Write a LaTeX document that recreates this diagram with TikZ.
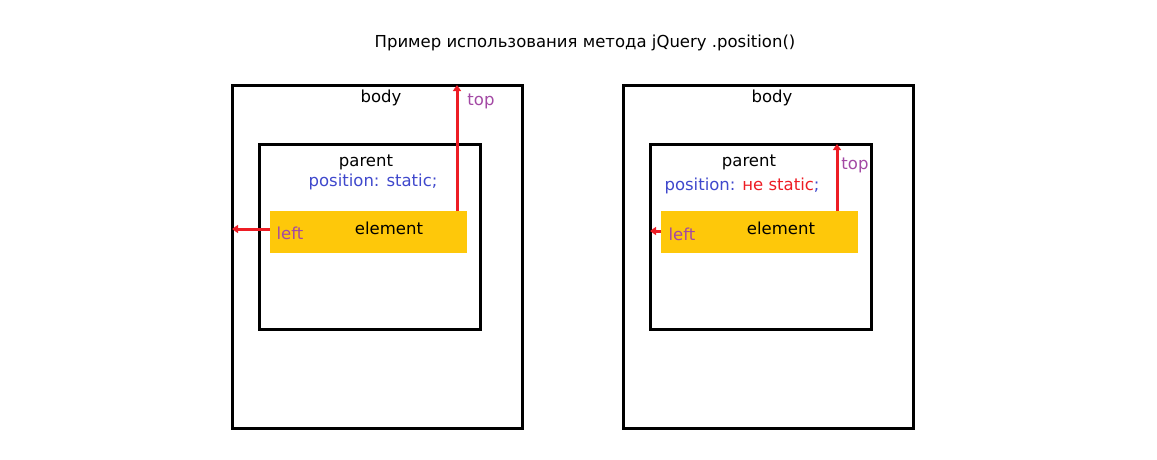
\documentclass[tikz,border=0pt]{standalone}
\usepackage{fontspec}
\setmainfont{DejaVu Sans}
\usetikzlibrary{arrows.meta}
\definecolor{elemc}{RGB}{254,200,10}
\definecolor{arrc}{RGB}{237,28,36}
\definecolor{lblc}{RGB}{163,73,164}
\definecolor{posc}{RGB}{63,72,204}
\tikzset{
  x=1pt,y=-1pt,
  box/.style={draw=black,line width=3pt},
  elem/.style={fill=elemc},
  redarrow/.style={draw=arrc,line width=3pt,-{Triangle[length=6pt,width=8pt]}},
  lbl/.style={inner sep=0pt,font=\fontsize{16.5}{18}\selectfont},
}
\begin{document}
\begin{tikzpicture}
\useasboundingbox (0,0) rectangle (1157,459);
\node[lbl] (title) at (585,43) {Пример использования метода jQuery .position()};
% left
\draw[box] (232,85) rectangle (522,428);
\coordinate (lbodytop) at (457,85);
\coordinate (lbodyleft) at (232,229);
\draw[box] (259,144) rectangle (480,329);
\fill[elem] (270,211) rectangle (467,253);
\coordinate (lelemtop) at (457,211);
\coordinate (lelemleft) at (270,229);
\node[lbl] (lbody) at (381,98) {body};
\node[lbl] (lparent) at (366,162) {parent};
\node[lbl,text=posc] (lpos) at (373,182) {position: static;};
\node[lbl] (lelem) at (389,228) {element};
\node[lbl,text=lblc] (ltop) at (481,101) {top};
\node[lbl,text=lblc] (lleft) at (290,233) {left};
\draw[redarrow] (lelemtop) -- (lbodytop);
\draw[redarrow] (lelemleft) -- (lbodyleft);
% right
\draw[box] (623,85) rectangle (913,428);
\draw[box] (650,144) rectangle (871,329);
\coordinate (rpartop) at (837,144);
\coordinate (rparleft) at (650,231);
\fill[elem] (661,211) rectangle (858,253);
\coordinate (relemtop) at (837,211);
\coordinate (relemleft) at (661,231);
\node[lbl] (rbody) at (772,98) {body};
\node[lbl] (rparent) at (749,162) {parent};
\node[lbl,text=posc] (rpos) at (742,186) {position: \textcolor{arrc}{не static};};
\node[lbl] (relem) at (781,228) {element};
\node[lbl,text=lblc] (rtop) at (855,165) {top};
\node[lbl,text=lblc] (rleft) at (682,234) {left};
\draw[redarrow] (relemtop) -- (rpartop);
\draw[redarrow] (relemleft) -- (rparleft);
\end{tikzpicture}
\end{document}
